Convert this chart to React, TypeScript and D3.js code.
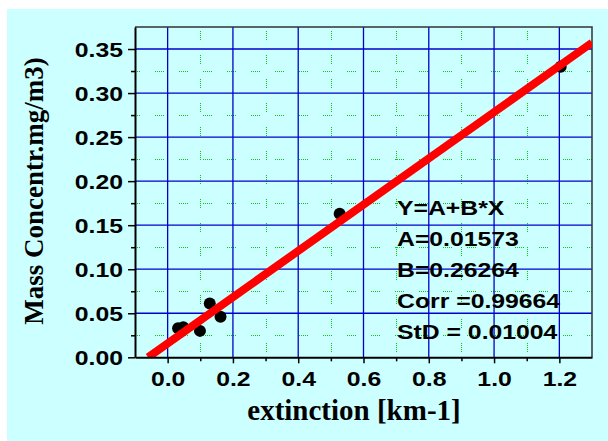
import React, { useEffect, useRef } from 'react';
import * as d3 from 'd3';

// measured points
const extinction = [0.032, 0.048, 0.099, 0.129, 0.162, 0.527, 1.204];
const massConc = [0.033, 0.034, 0.030, 0.061, 0.046, 0.163, 0.330];

// linear fit Y = A + B*X
const fitA = 0.01573;
const fitB = 0.26264;
const statLines = ['Y=A+B*X', 'A=0.01573', 'B=0.26264', 'Corr =0.99664', 'StD = 0.01004'];

const xTicks = [0.0, 0.2, 0.4, 0.6, 0.8, 1.0, 1.2];
const xMinor = [0.1, 0.3, 0.5, 0.7, 0.9, 1.1];
const yTicks = [0.0, 0.05, 0.10, 0.15, 0.20, 0.25, 0.30, 0.35];
const yMinor = [0.025, 0.075, 0.125, 0.175, 0.225, 0.275, 0.325];

export default function App() {
    const ref = useRef<SVGSVGElement>(null);

    useEffect(() => {
        const svg = d3.select(ref.current);
        svg.selectAll('*').remove();

        const left = 135, right = 592, top = 27, bottom = 357.3;
        const x = d3.scaleLinear().domain([-0.1, 1.3]).range([left, right]);
        const y = d3.scaleLinear().domain([0, 0.375]).range([bottom, top]);
        const sx = 1.18; // labels look horizontally stretched
        const snap = (v: number) => Math.round(v) + 0.5;

        svg.append('rect')
            .attr('x', 7).attr('y', 9).attr('width', 601).attr('height', 432)
            .attr('fill', '#ccffff');

        svg.append('clipPath').attr('id', 'plot')
            .append('rect')
            .attr('x', left).attr('y', top)
            .attr('width', right - left).attr('height', bottom - top);

        const grid = svg.append('g');
        const dots = '1,1,1,1,1,1,1,1,1,15';

        // minor grid, green dotted
        grid.selectAll('.mx').data(xMinor).enter().append('line')
            .attr('x1', d => snap(x(d))).attr('x2', d => snap(x(d)))
            .attr('y1', top).attr('y2', bottom)
            .attr('stroke', '#00d000').attr('stroke-width', 1)
            .attr('stroke-dasharray', dots).attr('stroke-dashoffset', -4);
        grid.selectAll('.my').data(yMinor).enter().append('line')
            .attr('y1', d => snap(y(d))).attr('y2', d => snap(y(d)))
            .attr('x1', left).attr('x2', right)
            .attr('stroke', '#00d000').attr('stroke-width', 1)
            .attr('stroke-dasharray', dots).attr('stroke-dashoffset', -20);

        // major grid, blue
        grid.selectAll('.gx').data(xTicks).enter().append('line')
            .attr('x1', d => x(d)).attr('x2', d => x(d))
            .attr('y1', top).attr('y2', bottom)
            .attr('stroke', '#0000cc').attr('stroke-width', 1.3);
        grid.selectAll('.gy').data(yTicks.filter(d => d > 0)).enter().append('line')
            .attr('y1', d => y(d)).attr('y2', d => y(d))
            .attr('x1', left).attr('x2', right)
            .attr('stroke', '#0000cc').attr('stroke-width', 1.3);

        // frame top / right
        svg.append('path')
            .attr('d', `M${left},${top}H${right}V${bottom}`)
            .attr('fill', 'none').attr('stroke', '#333').attr('stroke-width', 1.5);

        // points
        svg.append('g').selectAll('circle')
            .data(extinction).enter().append('circle')
            .attr('cx', d => x(d))
            .attr('cy', (d, i) => y(massConc[i]))
            .attr('r', 6)
            .attr('fill', '#000');

        // fit line
        const x0 = -fitA / fitB;
        const line = d3.line<number>().x(d => x(d)).y(d => y(fitA + fitB * d));
        svg.append('path')
            .datum([x0, 1.3])
            .attr('d', line)
            .attr('clip-path', 'url(#plot)')
            .attr('fill', 'none')
            .attr('stroke', '#ff0000')
            .attr('stroke-width', 8);

        // axes
        const yAxis = svg.append('g').attr('transform', `translate(${left},0)`)
            .call(d3.axisLeft(y).tickValues(yTicks).tickSize(7).tickSizeOuter(0).tickFormat(d3.format('.2f')));
        svg.append('g').attr('transform', `translate(${left},0)`)
            .call(d3.axisLeft(y).tickValues(yMinor).tickSize(4).tickSizeOuter(0).tickFormat(() => ''))
            .select('.domain').remove();
        const xAxis = svg.append('g').attr('transform', `translate(0,${bottom})`)
            .call(d3.axisBottom(x).tickValues(xTicks).tickSize(6).tickSizeOuter(0).tickFormat(d3.format('.1f')));
        svg.append('g').attr('transform', `translate(0,${bottom})`)
            .call(d3.axisBottom(x).tickValues(xMinor).tickSize(4).tickSizeOuter(0).tickFormat(() => ''))
            .select('.domain').remove();

        svg.selectAll('.tick line').attr('stroke', '#000').attr('stroke-width', 1.5);
        svg.selectAll('.domain').attr('stroke', '#000').attr('stroke-width', 2);

        yAxis.selectAll('text')
            .attr('x', 0).attr('dy', 0)
            .attr('transform', `translate(-12,7.5) scale(${sx},1)`)
            .attr('font-family', 'Liberation Sans, Arial, sans-serif')
            .attr('font-weight', 'bold').attr('font-size', 21).attr('fill', '#000');
        xAxis.selectAll('text')
            .attr('y', 0).attr('dy', 0)
            .attr('transform', `translate(0,29) scale(${sx},1)`)
            .attr('font-family', 'Liberation Sans, Arial, sans-serif')
            .attr('font-weight', 'bold').attr('font-size', 21).attr('fill', '#000');

        // fit statistics
        svg.append('g').selectAll('text')
            .data(statLines).enter().append('text')
            .attr('transform', (d, i) => `translate(397,${215 + i * 31}) scale(${sx},1)`)
            .attr('font-family', 'Liberation Sans, Arial, sans-serif')
            .attr('font-weight', 'bold').attr('font-size', 21)
            .attr('fill', '#000')
            .text(d => d);

        // titles
        svg.append('text')
            .attr('x', 354).attr('y', 420)
            .attr('text-anchor', 'middle')
            .attr('font-family', 'Liberation Serif, Times New Roman, serif')
            .attr('font-weight', 'bold').attr('font-size', 29)
            .text('extinction [km-1]');
        svg.append('text')
            .attr('transform', 'translate(43,191) rotate(-90)')
            .attr('text-anchor', 'middle')
            .attr('font-family', 'Liberation Serif, Times New Roman, serif')
            .attr('font-weight', 'bold').attr('font-size', 27)
            .text('Mass Concentr.mg/m3)');
    }, []);

    return (
        <svg ref={ref} width={608} height={441} style={{ position: 'absolute', left: 0, top: 0 }}></svg>
    );
}
